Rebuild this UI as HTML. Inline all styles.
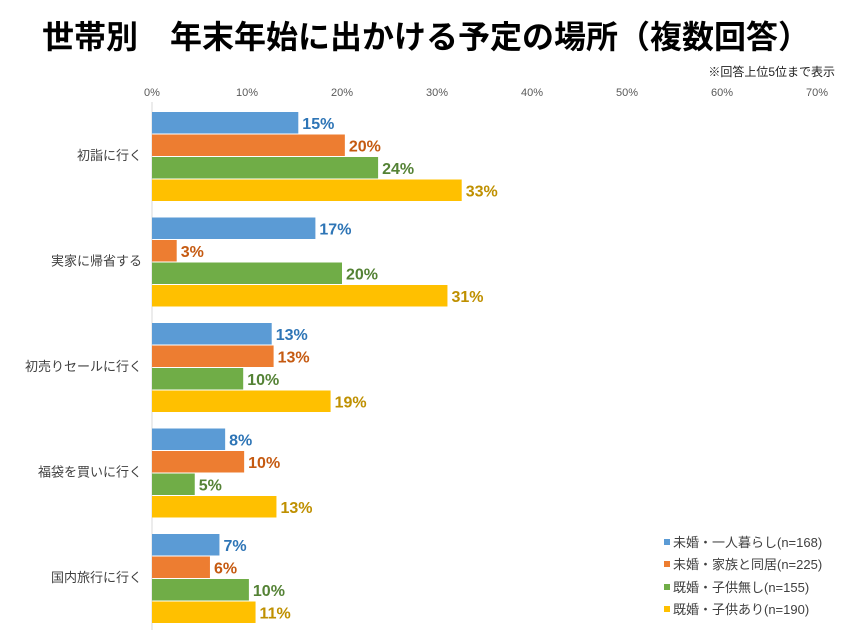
<!DOCTYPE html>
<html><head><meta charset="utf-8">
<style>
body{margin:0;background:#fff;font-family:"Liberation Sans","Noto Sans CJK JP",sans-serif;}
#wrap{position:relative;width:853px;height:640px;overflow:hidden;}
</style></head>
<body>
<div id="wrap">
<svg id="svg" width="853" height="640" xmlns="http://www.w3.org/2000/svg">
<text x="426" y="48" text-anchor="middle" font-size="32" font-weight="bold" fill="#000" font-family="Liberation Sans,Noto Sans CJK JP,sans-serif">世帯別　年末年始に出かける予定の場所（複数回答）</text>
<text x="835" y="76" text-anchor="end" font-size="12" fill="#222" font-family="Liberation Sans,Noto Sans CJK JP,sans-serif">※回答上位5位まで表示</text>
</svg>
</div>
<script>
const categories=["初詣に行く","実家に帰省する","初売りセールに行く","福袋を買いに行く","国内旅行に行く"];
const seriesNames=["未婚・一人暮らし(n=168)","未婚・家族と同居(n=225)","既婚・子供無し(n=155)","既婚・子供あり(n=190)"];
const s1=[15.4,17.2,12.6,7.7,7.1];
const s2=[20.3,2.6,12.8,9.7,6.1];
const s3=[23.8,20.0,9.6,4.5,10.2];
const s4=[32.6,31.1,18.8,13.1,10.9];
const ticks=[0,10,20,30,40,50,60,70];
const colors=["#5B9BD5","#ED7D31","#70AD47","#FFC000"];
const labelColors=["#2E75B6","#C55A11","#548235","#BF9000"];
const series=[s1,s2,s3,s4];
const NS="http://www.w3.org/2000/svg";
const svg=document.getElementById('svg');
const x0=152,xPer=9.5;
const xs=v=>x0+v*xPer;
const gTop=112,gPitch=105.5,bh=21.5;
function mk(t,a){const e=document.createElementNS(NS,t);for(const k in a)e.setAttribute(k,a[k]);svg.appendChild(e);return e;}
const F="Liberation Sans,Noto Sans CJK JP,sans-serif";
ticks.forEach(t=>{
  const e=mk('text',{x:xs(t),y:96,'text-anchor':'middle','font-size':11,fill:'#595959','font-family':F});
  e.textContent=t+'%';
  
  
});
const ax=mk('line',{x1:x0,y1:102,x2:x0,y2:630,stroke:'#d9d9d9','stroke-width':1});


categories.forEach((c,i)=>{
  const gy=gTop+i*gPitch;
  const lt=mk('text',{x:142,y:gy+2*bh+5,'text-anchor':'end','font-size':13,fill:'#404040','font-family':F});
  lt.textContent=c;
  
  
  series.forEach((s,j)=>{
    const y=gy+j*(bh+1);
    const r=mk('rect',{x:x0,y:y,width:xs(s[i])-x0,height:bh,fill:colors[j]});
    
    
    const t=mk('text',{x:xs(s[i])+4,y:y+bh/2+6,'font-size':16,'font-weight':'bold',fill:labelColors[j],'font-family':F});
    t.textContent=Math.round(s[i])+'%';
    
    
  });
});
const ly=[542,564,587,609];
seriesNames.forEach((n,j)=>{
  const r=mk('rect',{x:664,y:ly[j]-3,width:6,height:6,fill:colors[j]});
  
  
  const t=mk('text',{x:673,y:ly[j]+5,'font-size':13,fill:'#404040','font-family':F});
  t.textContent=n;
  
  
});
</script>
</body></html>
